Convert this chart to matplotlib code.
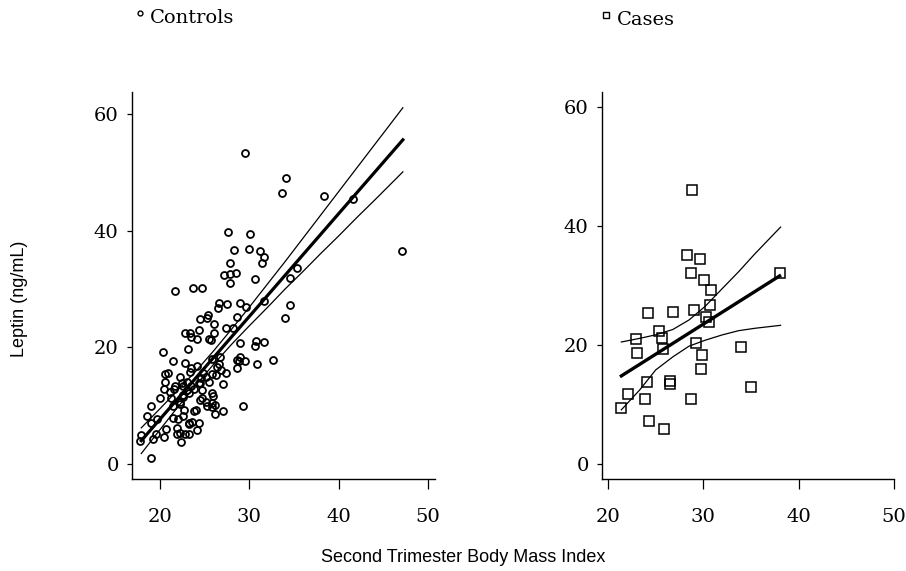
import matplotlib.pyplot as plt
from matplotlib.lines import Line2D

# controls: second trimester BMI vs leptin
controls_bmi = [
    29.5, 34.1, 33.7, 38.4, 41.6, 47.1, 27.6, 30.1, 28.3, 30.0, 31.2, 31.7, 31.4, 27.8,
    27.2, 27.8, 28.5, 27.8, 30.6, 21.7, 23.7, 24.7, 35.3, 34.6, 34.6, 34.0, 31.7,
    26.6, 27.5, 26.5, 29.0, 29.6, 28.6, 25.4, 25.3, 24.5, 26.1, 24.4, 27.4, 28.2,
    22.8, 23.4, 23.5, 24.1, 26.0, 25.5, 25.7, 23.1, 29.0, 30.7, 31.6, 30.6,
    20.3, 21.5, 22.8, 23.5, 24.1, 25.8, 26.7, 26.6, 29.0, 28.6, 28.8, 29.5, 28.6, 30.9, 32.7,
    20.9, 22.2, 20.6, 22.5, 20.4, 21.6, 23.5, 24.4, 24.6, 25.2, 25.8, 26.3, 26.8, 27.4,
    27.0, 25.5, 23.4, 24.85, 26.4, 23.0, 25.8, 24.7, 25.8,
    20.0, 21.2, 22.6, 23.2, 23.8, 24.7, 24.5, 25.1, 25.9, 25.3, 25.8, 26.2, 26.2, 27.1, 29.3,
    19.0, 18.5, 19.7, 19.0, 21.4, 22.2, 22.7, 23.8, 24.0, 21.5, 22.0, 22.6, 23.2, 23.6,
    24.4, 23.2, 24.1, 20.7, 20.5, 21.9, 22.2, 22.8, 23.2, 21.9, 22.4,
    17.9, 17.8, 19.2, 19.6, 19.0,
    20.6, 21.7, 21.1, 22.6, 23.0, 22.2, 22.6, 24.5,
]
controls_leptin = [
    53.3, 49.1, 46.4, 45.9, 45.5, 36.5, 39.8, 39.5, 36.7, 36.9, 36.5, 35.5, 34.5, 34.5,
    32.4, 32.6, 32.8, 31.1, 31.7, 29.7, 30.2, 30.2, 33.7, 31.9, 27.2, 25.0, 28.0,
    27.6, 27.5, 26.8, 27.6, 26.9, 25.2, 25.6, 25.0, 24.8, 24.0, 23.0, 23.3, 23.3,
    22.4, 22.5, 21.8, 21.4, 22.4, 21.5, 21.3, 19.8, 20.8, 21.1, 20.9, 20.2,
    19.2, 17.7, 17.4, 16.5, 16.8, 18.0, 18.4, 17.1, 18.4, 17.8, 17.6, 17.7, 16.4, 17.2, 17.9,
    15.6, 15.0, 14.1, 13.9, 12.8, 12.9, 13.4, 13.9, 14.7, 15.0, 15.4, 15.2, 16.1, 15.6,
    13.7, 14.1, 15.7, 15.6, 16.7, 12.7, 12.1, 11.3, 10.4,
    11.3, 11.4, 11.9, 12.2, 12.8, 12.7, 11.0, 10.6, 11.7, 9.9, 9.7, 10.1, 8.6, 9.1, 10.0,
    10.0, 8.3, 7.8, 7.0, 10.0, 10.3, 9.2, 9.1, 9.3, 7.9, 7.7, 8.3, 7.1, 7.2,
    7.0, 6.8, 5.9, 6.0, 4.6, 6.2, 5.4, 5.1, 5.1, 5.2, 3.8,
    5.0, 4.0, 4.3, 5.1, 1.1,
    15.4, 13.3, 12.4, 13.3, 14.1, 10.7, 11.5, 13.9,
]

# cases
cases_bmi = [28.8, 28.3, 29.6, 28.7, 30.05, 30.8, 38.0, 30.7, 24.2, 26.8, 29.0, 30.3,
             30.6, 25.3, 22.9, 25.7, 25.8, 23.05, 29.25, 29.9, 33.9, 29.8, 24.1, 26.5,
             26.5, 35.0, 22.1, 23.9, 28.7, 21.4, 24.3, 25.9]
cases_leptin = [46.0, 35.1, 34.4, 32.1, 30.9, 29.3, 32.1, 26.7, 25.4, 25.6, 25.8, 24.7,
                23.9, 22.3, 21.0, 21.1, 19.4, 18.7, 20.3, 18.3, 19.7, 15.9, 13.7, 14.0,
                13.5, 13.0, 11.7, 10.9, 10.9, 9.4, 7.2, 5.9]

# regression lines and confidence bands
ctrl_fit_x = [17.9, 47.2]
ctrl_fit_y = [4.0, 55.6]
ctrl_ci_x = [17.9, 20, 22, 24, 26, 28, 30, 32, 34, 36, 38, 40, 42, 44, 47.2]
ctrl_ci_hi = [6.2, 9.5, 12.7, 15.9, 19.4, 23.1, 26.9, 30.8, 34.7, 38.7, 42.7, 46.7, 50.7, 54.7, 61.1]
ctrl_ci_lo = [1.8, 5.9, 9.8, 13.5, 17.1, 20.5, 23.7, 26.8, 30.0, 33.0, 36.1, 39.1, 42.2, 45.2, 50.1]

case_fit_x = [21.4, 38.0]
case_fit_y = [14.8, 31.6]
case_ci_x = [21.4, 23.3, 25.0, 26.8, 28.5, 30.2, 32.0, 33.7, 35.4, 38.1]
case_ci_hi = [20.5, 21.1, 21.7, 22.6, 24.2, 26.5, 29.5, 32.3, 35.3, 39.8]
case_ci_lo = [9.1, 12.4, 15.8, 18.0, 19.8, 20.8, 21.7, 22.4, 22.8, 23.3]

xticks = [20, 30, 40, 50]
yticks = [0, 20, 40, 60]

W, H = 906, 571
fig = plt.figure(figsize=(W / 100, H / 100), dpi=100)

ax1 = fig.add_axes([132 / W, (H - 479) / H, (435 - 132) / W, (479 - 92) / H])
ax2 = fig.add_axes([602 / W, (H - 479) / H, (894 - 602) / W, (479 - 92) / H])

ax1.plot(controls_bmi, controls_leptin, 'o', ms=5, mfc='none', mec='black', mew=1.3)
ax1.plot(ctrl_fit_x, ctrl_fit_y, color='black', lw=2.3)
ax1.plot(ctrl_ci_x, ctrl_ci_hi, color='black', lw=0.9)
ax1.plot(ctrl_ci_x, ctrl_ci_lo, color='black', lw=0.9)
ax1.set_xlim(16.86, 50.8)
ax1.set_ylim(-2.57, 63.8)

ax2.plot(cases_bmi, cases_leptin, 's', ms=7, mfc='none', mec='black', mew=1.1)
ax2.plot(case_fit_x, case_fit_y, color='black', lw=2.4)
ax2.plot(case_ci_x, case_ci_hi, color='black', lw=0.9)
ax2.plot(case_ci_x, case_ci_lo, color='black', lw=0.9)
ax2.set_xlim(19.37, 50.0)
ax2.set_ylim(-2.52, 62.5)

for ax in (ax1, ax2):
    for s in ('top', 'right'):
        ax.spines[s].set_visible(False)
    for s in ('left', 'bottom'):
        ax.spines[s].set_linewidth(1.0)
    ax.set_xticks(xticks)
    ax.set_yticks(yticks)
    ax.tick_params(axis='y', direction='out', length=3.6, width=0.9, pad=6, labelsize=14)
    ax.tick_params(axis='x', direction='out', length=7, width=0.9, pad=14, labelsize=14)
    for lab in ax.get_xticklabels() + ax.get_yticklabels():
        lab.set_family('DejaVu Serif')

# group labels at the top
fig.add_artist(Line2D([140 / W], [(H - 13) / H], marker='o', ms=3.5, mfc='none',
                      mec='black', mew=1.0, transform=fig.transFigure))
fig.text(150 / W, (H - 18) / H, 'Controls', family='DejaVu Serif', fontsize=14,
         ha='left', va='center')
fig.add_artist(Line2D([606 / W], [(H - 15) / H], marker='s', ms=5, mfc='none',
                      mec='black', mew=1.0, transform=fig.transFigure))
fig.text(617 / W, (H - 20) / H, 'Cases', family='DejaVu Serif', fontsize=14,
         ha='left', va='center')

fig.text(20 / W, (H - 299) / H, 'Leptin (ng/mL)', family='Liberation Sans', fontsize=13,
         rotation=90, ha='center', va='center')
fig.text(463 / W, (H - 558) / H, 'Second Trimester Body Mass Index', family='Liberation Sans',
         fontsize=13, ha='center', va='center')

fig.savefig('out.png', dpi=100)
